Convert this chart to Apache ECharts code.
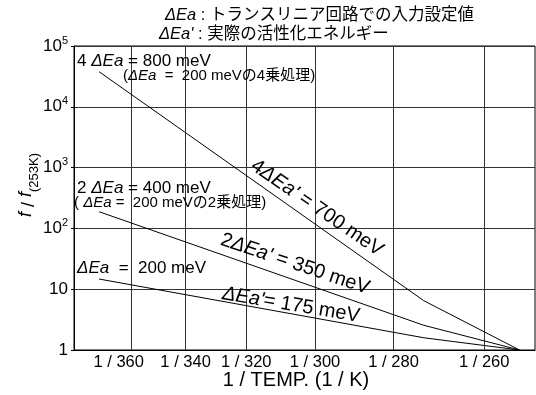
<!DOCTYPE html>
<html>
<head>
<meta charset="utf-8">
<script src="https://cdn.jsdelivr.net/npm/echarts@6/dist/echarts.min.js"></script>
<style>
html,body{margin:0;padding:0;background:#fff;}
#chart{width:536px;height:395px;}
</style>
</head>
<body>
<div id="chart"></div>
<script>
// x values are 1000 / T (1/kK); y values are f / f(253K)
const tickTemps = [360, 340, 320, 300, 280, 260];
const tickLabels = ['1 / 360', '1 / 340', '1 / 320', '1 / 300', '1 / 280', '1 / 260'];
const invTemp = [2.679, 3.663, 3.953];
const ratio4 = [37800, 6.47, 1];
const ratio2 = [188, 2.55, 1];
const ratio1 = [14.7, 1.59, 1];
const yTickLabels = {1: '1', 10: '10', 100: '10{sup|2}', 1000: '10{sup|3}', 10000: '10{sup|4}', 100000: '10{sup|5}'};

const FONT = "'Liberation Sans', Arial, 'Noto Sans CJK JP', sans-serif";
const tickValues = tickTemps.map(t => 1000 / t);

function pairs(ys) { return invTemp.map((x, i) => [x, ys[i]]); }

const chart = echarts.init(document.getElementById('chart'));
const lineStyle = {color: '#000', width: 1};
const mkSeries = (ys) => ({type: 'line', data: pairs(ys), showSymbol: false, symbol: 'none', lineStyle: lineStyle, silent: true, animation: false});

function richOf(size) {
  return {
    i: {fontStyle: 'italic', fontFamily: FONT, fontSize: size},
    n: {fontFamily: FONT, fontSize: size}
  };
}
function txt(x, y, text, size, opts) {
  opts = opts || {};
  return {
    type: 'text', x: x, y: y, rotation: opts.rot || 0, z: 100,
    style: {
      text: text, fill: '#000', fontFamily: FONT, fontSize: size,
      align: opts.align || 'left', verticalAlign: 'middle', rich: richOf(size)
    }
  };
}
const deg = Math.PI / 180;

chart.setOption({
  animation: false,
  backgroundColor: '#fff',
  grid: {left: 74, right: 1, top: 46, bottom: 45, show: true, borderColor: '#000', borderWidth: 1},
  xAxis: {
    type: 'value', min: 2.603, max: 4.0,
    axisLine: {show: true, lineStyle: {color: '#000'}},
    axisTick: {show: true, length: 0, customValues: tickValues},
    axisLabel: {
      customValues: tickValues, margin: 4, color: '#000', fontFamily: FONT, fontSize: 16.5,
      formatter: function (v) {
        let best = 0;
        tickValues.forEach((t, i) => { if (Math.abs(t - v) < Math.abs(tickValues[best] - v)) best = i; });
        return best === 0 ? '{f|' + tickLabels[best] + '}' : tickLabels[best];
      },
      rich: {f: {fontFamily: FONT, fontSize: 16.5, color: '#000', padding: [0, 26, 0, 0]}}
    },
    splitLine: {show: true, lineStyle: {color: '#333', width: 1}}
  },
  yAxis: {
    type: 'log', logBase: 10, min: 1, max: 100000,
    axisLine: {show: true, lineStyle: {color: '#000'}},
    axisTick: {show: true, length: 3, lineStyle: {color: '#000'}},
    axisLabel: {
      color: '#000', fontFamily: FONT, fontSize: 17, margin: 6,
      formatter: function (v) { return yTickLabels[Math.round(v)] || ''; },
      rich: {sup: {fontFamily: FONT, fontSize: 11, color: '#000', lineHeight: 10, verticalAlign: 'top'}},
      lineHeight: 22
    },
    splitLine: {show: true, lineStyle: {color: '#333', width: 1}}
  },
  series: [mkSeries(ratio4), mkSeries(ratio2), mkSeries(ratio1)],
  graphic: [
    // title
    txt(165, 15, '{i|ΔEa} : トランスリニア回路での入力設定値', 16.5),
    txt(159, 34, "{i|ΔEa'} : 実際の活性化エネルギー", 16.5),
    // left annotations
    txt(77, 61, '4 {i|ΔEa} = 800 meV', 17),
    txt(123, 76, '({i|ΔEa}  =  200 meVの4乗処理)', 15),
    txt(77, 188, '2 {i|ΔEa} = 400 meV', 17),
    txt(74, 203, '( {i|ΔEa} =  200 meVの2乗処理)', 15),
    txt(77, 268, '{i|ΔEa}  =  200 meV', 17),
    // slope labels
    txt(317, 208, "4{i|ΔEa'} = 700 meV", 20, {align: 'center', rot: -34.5 * deg}),
    txt(295, 264, "2{i|ΔEa'} = 350 meV", 20, {align: 'center', rot: -18.5 * deg}),
    txt(291, 305, "{i|ΔEa'}= 175 meV", 20, {align: 'center', rot: -9.5 * deg}),
    // axis names
    txt(296, 380, '1 / TEMP. (1 / K)', 20, {align: 'center'}),
    {
      type: 'text', x: 29, y: 185, rotation: Math.PI / 2, z: 100,
      style: {
        text: '{i|f} / {i|f}{s|(253K)}', fill: '#000', fontFamily: FONT, fontSize: 18,
        align: 'center', verticalAlign: 'middle',
        rich: {
          i: {fontStyle: 'italic', fontFamily: FONT, fontSize: 18, lineHeight: 24, verticalAlign: 'top'},
          s: {fontFamily: FONT, fontSize: 13, lineHeight: 13, verticalAlign: 'bottom'}
        }
      }
    }
  ]
});
</script>
</body>
</html>
